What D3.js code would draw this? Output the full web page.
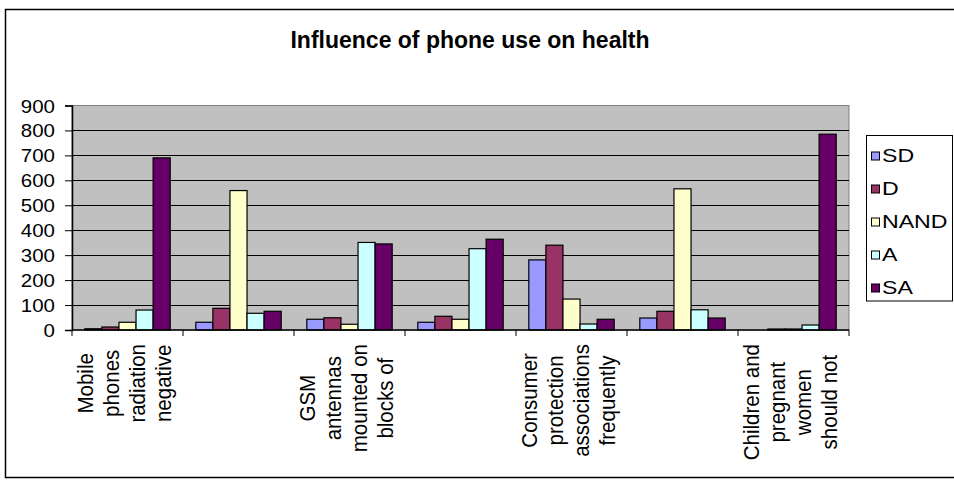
<!DOCTYPE html>
<html>
<head>
<meta charset="utf-8">
<script src="https://cdn.jsdelivr.net/npm/d3@7"></script>
<style>
  html, body { margin: 0; padding: 0; background: #fff; }
  svg { display: block; }
  text { font-family: Arial, "Liberation Sans", sans-serif; fill: #000; }
</style>
</head>
<body>
<svg id="chart" width="954" height="483"></svg>
<script>
// Response counts per statement (7 statements, 5 answer levels)
const seriesNames = ["SD", "D", "NAND", "A", "SA"];
const seriesColors = ["#9999FF", "#993366", "#FFFFCC", "#CCFFFF", "#660066"];

// Statement labels; every other category label is skipped on the axis
const categoryLabels = [
  ["Mobile", "phones", "radiation", "negative"],
  [],
  ["GSM", "antennas", "mounted on", "blocks of"],
  [],
  ["Consumer", "protection", "associations", "frequently"],
  [],
  ["Children and", "pregnant", "women", "should not"]
];

const sdValues   = [5, 31, 43, 31, 281, 48, 0];
const dValues    = [12, 87, 49, 55, 340, 75, 4];
const nandValues = [31, 559, 23, 43, 124, 566, 4];
const aValues    = [80, 67, 351, 326, 24, 81, 20];
const saValues   = [690, 75, 345, 364, 43, 48, 785];

const yTicks = [0, 100, 200, 300, 400, 500, 600, 700, 800, 900];
const chartTitle = "Influence of phone use on health";

const seriesValues = [sdValues, dValues, nandValues, aValues, saValues];

const svg = d3.select("#chart");
const plot = { left: 72, right: 849, top: 105.5, bottom: 330 };
const sx = 1.17; // horizontal text stretch

// outer chart frame
svg.append("rect")
  .attr("x", 5.5).attr("y", 9.5)
  .attr("width", 960).attr("height", 468)
  .attr("fill", "#fff").attr("stroke", "#000").attr("stroke-width", 1.5);

// title
svg.append("text")
  .attr("transform", `translate(470,48)`)
  .attr("text-anchor", "middle")
  .style("font-size", "23px").style("font-weight", "bold")
  .text(chartTitle);

const idx = d3.range(categoryLabels.length);
const x0 = d3.scaleBand().domain(idx).range([plot.left, plot.right]).padding(0);
const x1 = d3.scaleBand().domain(seriesNames).range([0, x0.bandwidth()])
  .paddingInner(0).paddingOuter(0.75);
const y = d3.scaleLinear().domain([0, 900]).range([plot.bottom, plot.top]);

// plot background
svg.append("rect")
  .attr("x", plot.left).attr("y", plot.top)
  .attr("width", plot.right - plot.left).attr("height", plot.bottom - plot.top)
  .attr("fill", "#C0C0C0").attr("stroke", "#808080").attr("stroke-width", 1);

// horizontal gridlines
svg.append("g").selectAll("line")
  .data(yTicks.filter(t => t > 0 && t < 900))
  .join("line")
  .attr("x1", plot.left).attr("x2", plot.right)
  .attr("y1", d => Math.round(y(d)) + 0.5).attr("y2", d => Math.round(y(d)) + 0.5)
  .attr("stroke", "#000").attr("stroke-width", 1);

// bars
const rows = idx.map(i => seriesNames.map((s, k) => ({ cat: i, key: s, k, value: seriesValues[k][i] })));
svg.append("g").selectAll("g")
  .data(rows)
  .join("g")
  .attr("transform", (d, i) => `translate(${x0(i)},0)`)
  .selectAll("rect")
  .data(d => d)
  .join("rect")
  .attr("x", d => x1(d.key))
  .attr("y", d => y(d.value))
  .attr("width", x1.bandwidth())
  .attr("height", d => y(0) - y(d.value))
  .attr("fill", d => seriesColors[d.k])
  .attr("stroke", "#000").attr("stroke-width", 1.2);

// y axis
const yAxis = svg.append("g")
  .attr("transform", `translate(${plot.left},0)`)
  .call(d3.axisLeft(y).tickValues(yTicks).tickSize(7).tickPadding(0).tickFormat(d3.format("d")));
yAxis.select(".domain").attr("stroke", "#000").attr("stroke-width", 1.5);
yAxis.selectAll(".tick line").attr("stroke", "#000");
yAxis.selectAll(".tick text").remove();
yAxis.selectAll(".tick").append("text")
  .attr("transform", `translate(-17,6.5) scale(${sx},1)`)
  .attr("text-anchor", "end")
  .style("font-size", "17.5px")
  .text(d => d);

// x axis
const xTickPos = d3.range(categoryLabels.length + 1).map(i => plot.left + i * x0.step());
svg.append("line")
  .attr("x1", plot.left).attr("x2", plot.right)
  .attr("y1", plot.bottom).attr("y2", plot.bottom)
  .attr("stroke", "#000").attr("stroke-width", 1.5);
svg.append("g").selectAll("line")
  .data(xTickPos)
  .join("line")
  .attr("x1", d => d).attr("x2", d => d)
  .attr("y1", plot.bottom).attr("y2", plot.bottom + 6)
  .attr("stroke", "#000");

// rotated, wrapped category labels
const lineGap = 26;
const labelTop = 344;
idx.forEach(i => {
  const lines = categoryLabels[i];
  if (!lines.length) return;
  const cx = x0(i) + x0.bandwidth() / 2;
  const g = svg.append("g");
  const texts = g.selectAll("text").data(lines).join("text")
    .attr("text-anchor", "middle")
    .style("font-size", "20.5px")
    .text(d => d);
  const maxLen = d3.max(texts.nodes(), n => n.getComputedTextLength());
  const cy = labelTop + maxLen / 2;
  texts.attr("transform", (d, j) =>
    `translate(${cx + (j - (lines.length - 1) / 2) * lineGap + 4.5},${cy}) scale(1.07,1) rotate(-90)`);
});

// legend
const legend = svg.append("g");
legend.append("rect")
  .attr("x", 866.5).attr("y", 135.5).attr("width", 86).attr("height", 165.5)
  .attr("fill", "#fff").attr("stroke", "#000").attr("stroke-width", 1);
const item = legend.selectAll("g.item").data(seriesNames).join("g")
  .attr("class", "item")
  .attr("transform", (d, i) => `translate(0,${161.5 + i * 33})`);
item.append("rect")
  .attr("x", 871.5).attr("y", -9.5).attr("width", 8).attr("height", 8)
  .attr("fill", (d, i) => seriesColors[i]).attr("stroke", "#000").attr("stroke-width", 1);
item.append("text")
  .attr("transform", `translate(882,0) scale(1.25,1)`)
  .style("font-size", "18.5px")
  .text(d => d);
</script>
</body>
</html>
